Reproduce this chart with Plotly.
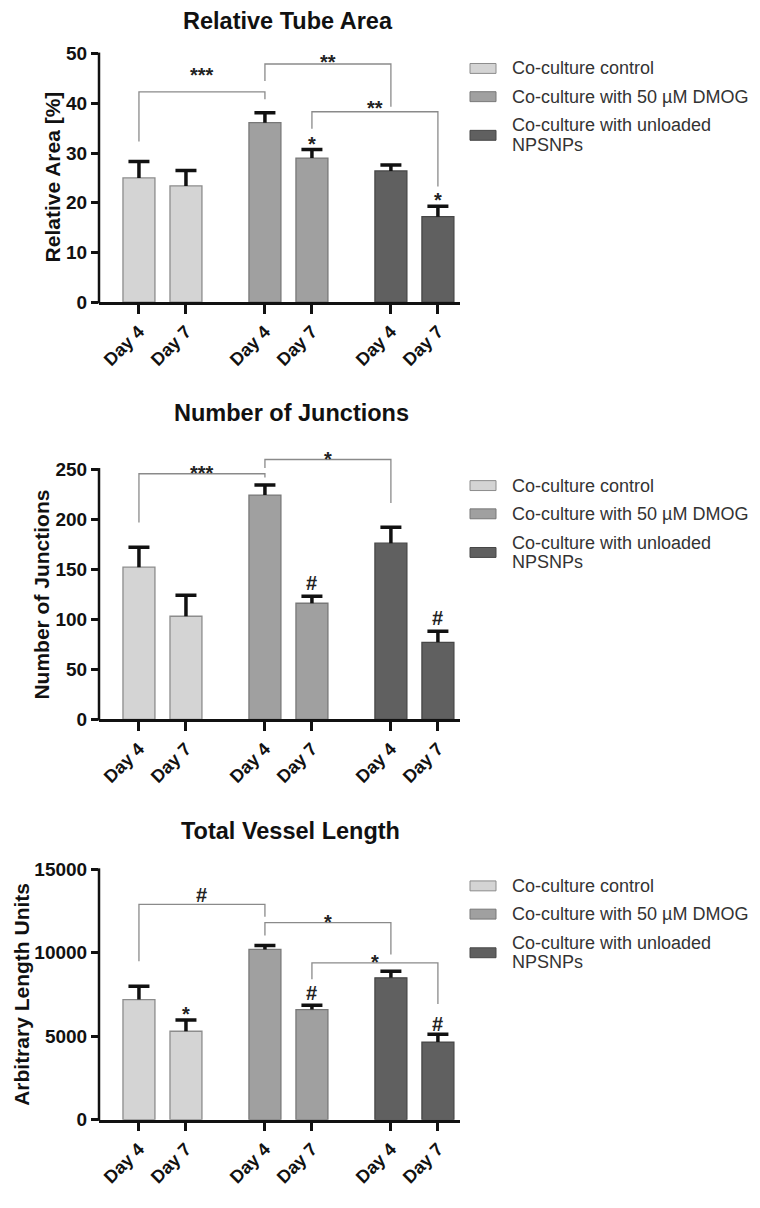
import plotly.graph_objects as go

# ---------------- data ----------------
groups = ["Co-culture control", "Co-culture with 50 µM DMOG", "Co-culture with unloaded NPSNPs"]
days = ["Day 4", "Day 7"]

titles = ["Relative Tube Area", "Number of Junctions", "Total Vessel Length"]
y_titles = ["Relative Area [%]", "Number of Junctions", "Arbitrary Length Units"]

tube_area = [[25.0, 23.4], [36.1, 29.0], [26.4, 17.2]]
tube_area_err = [[3.3, 3.1], [2.0, 1.7], [1.2, 2.1]]

junctions = [[152, 103], [224, 116], [176, 77]]
junctions_err = [[20, 21], [10, 7], [16, 11]]

vessel_length = [[7200, 5300], [10200, 6600], [8500, 4650]]
vessel_length_err = [[800, 680], [230, 260], [400, 470]]

y_ticks = [[0, 10, 20, 30, 40, 50],
           [0, 50, 100, 150, 200, 250],
           [0, 5000, 10000, 15000]]

# significance brackets: (left bar, right bar, bracket y, left leg end, right leg end, label, label y)
brackets_tube = [(0, 2, 42.3, 32.3, 40.8, "***", 46.7),
                 (2, 4, 47.9, 44.5, 39.3, "**", 49.4),
                 (3, 5, 38.3, 34.9, 23.3, "**", 40.0)]
marks_tube = [(3, "*", 32.9), (5, "*", 21.5)]

brackets_junc = [(0, 2, 245.3, 196.5, 241.6, "***", 251),
                 (2, 4, 259.5, 251.0, 216.0, "*", 265)]
marks_junc = [(3, "#", 136.5), (5, "#", 101)]

brackets_vessel = [(0, 2, 12896, 9496, 12166, "#", 13453),
                   (2, 4, 11810, 11040, 9893, "*", 12166),
                   (3, 5, 9395, 8410, 6926, "*", 9753)]
marks_vessel = [(1, "*", 6630), (3, "#", 7615), (5, "#", 5740)]

values = [tube_area, junctions, vessel_length]
errors = [tube_area_err, junctions_err, vessel_length_err]
brackets = [brackets_tube, brackets_junc, brackets_vessel]
marks = [marks_tube, marks_junc, marks_vessel]

# ---------------- style / layout ----------------
PAGE_OFF = 8                      # default body margin of the html page
W, H = 760 - PAGE_OFF, 1208 - PAGE_OFF
FONT = "Liberation Sans, Arial, sans-serif"
colors = ["#d4d4d4", "#a0a0a0", "#606060"]
outlines = ["#8c8c8c", "#787878", "#464646"]
group_step = 2.68
bar_w = 0.68
x_left_px, x_right_px = 99, 460
x_range = [-0.85, 6.36 + 0.47]
zero_px = [305, 726, 1130]       # screen row of value 0
top_px = [54, 473.3, 877.3]      # screen row of top tick
ext = 1.12
title_px = [(288, 21.5), (291, 417), (290, 839)]
ytitle_px = [(52, 179), (42, 600), (22, 1004)]
legend_rows = [-236, -207.5]
legend_row3 = -168.5
legend_row3_lines = [-178.5, -159]


def py(p):
    return 1 - (p - PAGE_OFF) / H


def px(p):
    return (p - PAGE_OFF) / W


def sig_shift(lab):
    return -5 if "*" in lab else 0


positions = [g * group_step + d for g in range(len(groups)) for d in range(len(days))]

fig = go.Figure()
shapes = []
annotations = []

for k in range(3):
    xa = "x" if k == 0 else f"x{k+1}"
    ya = "y" if k == 0 else f"y{k+1}"
    vals = values[k]
    errs = errors[k]
    top_tick = y_ticks[k][-1]
    span_px = zero_px[k] - top_px[k]
    ymax = top_tick * ext
    dom_top_px = zero_px[k] - span_px * ext

    # bars per group
    for g in range(len(groups)):
        xs = [g * group_step + d for d in range(len(days))]
        fig.add_trace(go.Bar(
            x=xs, y=vals[g], width=bar_w, xaxis=xa, yaxis=ya,
            marker=dict(color=colors[g], line=dict(color=outlines[g], width=1.3)),
            error_y=dict(type="data", symmetric=False, array=errs[g],
                         arrayminus=[0] * len(days), color="#111111",
                         thickness=3.5, width=0),
            showlegend=False, hoverinfo="skip", name=groups[g]))
        fig.add_trace(go.Scatter(
            x=xs, y=[v + e for v, e in zip(vals[g], errs[g])],
            xaxis=xa, yaxis=ya, mode="markers",
            marker=dict(symbol="line-ew", size=15, line=dict(color="#111111", width=3.5)),
            showlegend=False, hoverinfo="skip"))

    # brackets
    for (i0, i1, yb, yl, yr, lab, ylab) in brackets[k]:
        x0, x1 = positions[i0], positions[i1]
        fig.add_trace(go.Scatter(
            x=[x0, x0, x1, x1], y=[yl, yb, yb, yr], xaxis=xa, yaxis=ya,
            mode="lines", line=dict(color="#8a8a8a", width=1.3),
            showlegend=False, hoverinfo="skip"))
        annotations.append(dict(
            x=(x0 + x1) / 2, y=ylab, xref=xa, yref=ya, text=lab, showarrow=False,
            yanchor="middle", yshift=sig_shift(lab),
            font=dict(family=FONT, size=20, color="#222222", weight="bold")))
    for (i, lab, ylab) in marks[k]:
        annotations.append(dict(
            x=positions[i], y=ylab, xref=xa, yref=ya, text=lab, showarrow=False,
            yanchor="middle", yshift=sig_shift(lab),
            font=dict(family=FONT, size=20, color="#222222", weight="bold")))

    # axes
    xkey = "xaxis" if k == 0 else f"xaxis{k+1}"
    ykey = "yaxis" if k == 0 else f"yaxis{k+1}"
    fig.layout[xkey] = dict(
        domain=[px(x_left_px), px(x_right_px)], range=x_range, anchor=ya,
        tickmode="array", tickvals=positions, ticktext=days * len(groups),
        tickangle=-45, ticks="outside", ticklen=9, tickwidth=2.5, tickcolor="#111",
        showline=True, linecolor="#111", linewidth=2.5, showgrid=False, zeroline=False,
        tickfont=dict(family=FONT, size=18, color="#111", weight="bold"), fixedrange=True)
    fig.layout[ykey] = dict(
        domain=[py(zero_px[k]), py(dom_top_px)], range=[0, ymax], anchor=xa,
        tickmode="array", tickvals=y_ticks[k], tickformat="d", ticks="outside", ticklen=7,
        tickwidth=2.5, tickcolor="#111", showline=False, showgrid=False, zeroline=False,
        tickfont=dict(family=FONT, size=19, color="#111", weight="bold"), fixedrange=True)

    # y axis line up to top tick
    shapes.append(dict(type="line", xref="paper", yref="paper",
                       x0=px(x_left_px), x1=px(x_left_px),
                       y0=py(zero_px[k] + 1.2), y1=py(top_px[k] - 1),
                       line=dict(color="#111", width=2.5)))

    # chart title
    annotations.append(dict(
        x=px(title_px[k][0]), y=py(title_px[k][1]), xref="paper", yref="paper",
        text=titles[k], showarrow=False, xanchor="center", yanchor="middle", borderpad=0,
        font=dict(family=FONT, size=23.5, color="#111", weight="bold")))
    # y axis title
    annotations.append(dict(
        x=px(ytitle_px[k][0]), y=py(ytitle_px[k][1]), xref="paper", yref="paper",
        text=y_titles[k], showarrow=False, textangle=-90, xanchor="center", yanchor="middle",
        font=dict(family=FONT, size=21, color="#111", weight="bold")))

    # legend (drawn manually: wide swatches like the original)
    for g in range(len(groups)):
        yc = zero_px[k] + (legend_rows[g] if g < 2 else legend_row3)
        shapes.append(dict(type="rect", xref="paper", yref="paper",
                           x0=px(470), x1=px(496), y0=py(yc + 5), y1=py(yc - 5),
                           fillcolor=colors[g], line=dict(color=outlines[g], width=1)))
        if g < 2:
            lines = [(groups[g], yc)]
        else:
            words = groups[g].rsplit(" ", 1)
            lines = [(words[0], zero_px[k] + legend_row3_lines[0]),
                     (words[1], zero_px[k] + legend_row3_lines[1])]
        for text, ly in lines:
            annotations.append(dict(
                x=px(510), y=py(ly), xref="paper", yref="paper", text=text,
                showarrow=False, xanchor="left", yanchor="middle", align="left",
                font=dict(family=FONT, size=18, color="#333333")))

fig.update_layout(
    width=W, height=H, margin=dict(l=0, r=0, t=0, b=0),
    paper_bgcolor="white", plot_bgcolor="white", barmode="overlay",
    shapes=shapes, annotations=annotations, showlegend=False,
    font=dict(family=FONT))

fig.write_html("out.html")
